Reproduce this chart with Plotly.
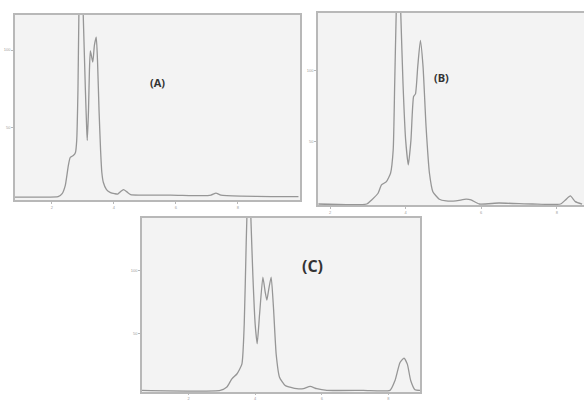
import plotly.graph_objects as go

# ---- Data ----
a_time = [0.81, 1.62, 2.20, 2.33, 2.43, 2.53, 2.59, 2.69, 2.76, 2.80, 2.84, 2.87, 2.93, 3.01, 3.08, 3.12, 3.14,
          3.18, 3.21, 3.24, 3.29, 3.32, 3.37, 3.43, 3.47, 3.52, 3.57, 3.61, 3.66, 3.76, 3.89, 4.02, 4.12,
          4.21, 4.31, 4.41, 4.54, 4.86, 5.83, 6.81, 7.13, 7.29, 7.45, 8.10, 9.07, 9.95]
a_signal = [4.9, 4.9, 5.2, 7.1, 12.3, 25.3, 30.5, 31.8, 33.8, 41.6, 74, 122.7, 175, 122.7, 74, 50, 41.6,
            61, 87, 99.4, 94.8, 92.2, 103, 108.4, 93.5, 61, 35, 20.8, 14.3, 9.7, 7.8, 7.1, 6.8,
            8.4, 9.7, 8.4, 6.5, 6.2, 6.2, 5.8, 6.2, 7.5, 6.2, 5.5, 5.2, 5.2]

b_time = [1.69, 2.97, 3.10, 3.27, 3.36, 3.49, 3.60, 3.67, 3.71, 3.75, 3.81, 3.87, 3.93, 4.00, 4.07, 4.14,
          4.21, 4.26, 4.32, 4.39, 4.46, 4.54, 4.63, 4.72, 4.89, 5.07, 5.33, 5.60, 5.73, 5.95, 6.47,
          7.35, 8.10, 8.23, 8.36, 8.49, 8.67]
b_signal = [5.9, 5.9, 8.8, 13.5, 19.4, 21.7, 27.6, 44, 91, 140.8, 190, 140.8, 91, 51, 33.5, 51,
            81.8, 83.7, 103, 121.4, 103, 60.6, 27.6, 14.6, 9.3, 8.1, 8.1, 9.3, 8.8, 5.9, 6.6,
            5.9, 5.9, 8.8, 11.6, 7.6, 5.9]

c_time = [0.60, 2.95, 3.15, 3.30, 3.45, 3.60, 3.67, 3.73, 3.75, 3.81, 3.87, 3.93, 4.00, 4.06, 4.13,
          4.23, 4.30, 4.35, 4.41, 4.48, 4.55, 4.63, 4.73, 4.90, 5.25, 5.45, 5.65, 5.85, 6.15,
          7.25, 8.05, 8.20, 8.35, 8.47, 8.57, 8.67, 8.80, 8.95]
c_signal = [5.4, 5.4, 8.0, 14.5, 18.3, 26.1, 57.2, 122, 141.4, 190, 141.4, 96, 57.2, 42.2, 65,
            94.8, 83, 76.6, 85.7, 94.8, 70.2, 33.9, 15.8, 9.3, 6.7, 6.7, 8.5, 6.7, 5.4,
            5.4, 5.4, 13.2, 27.4, 30.8, 26.1, 13.2, 5.9, 5.4]

x_ticks = [2, 4, 6, 8]
x_tick_text = ["2", "4", "6", "8"]
y_ticks = [50, 100]
y_tick_text = ["50", "100"]
right_ticks = [0, 1, 2]
right_tick_text = ["0", "1", "2"]
panel_labels = ["(A)", "(B)", "(C)"]

W, H = 584, 400
LINE = "#969696"
BORDER = "#b8b8b8"
BG = "#f3f3f3"
TICKFONT = dict(size=4, color="#a0a0a0", family="Liberation Sans")

fig = go.Figure()

panels = [
    dict(t=a_time, s=a_signal, xdom=[15, 300], ydom=[15, 200], xr=[0.81, 10.0], yr=[3.0, 122.7],
         lab=(148, 73), fs=11, tl=2),
    dict(t=b_time, s=b_signal, xdom=[318, 586], ydom=[13, 205], xr=[1.68, 8.72], yr=[5.2, 140.8],
         lab=(451, 68), fs=11, tl=2),
    dict(t=c_time, s=c_signal, xdom=[142, 420], ydom=[218, 392], xr=[0.60, 8.95], yr=[4.1, 141.4],
         lab=(312, 279), fs=16, tl=1),
]

for i, p in enumerate(panels):
    n = "" if i == 0 else str(i + 1)
    xa, ya = "x" + n, "y" + n
    xd = [p["xdom"][0] / W, min(p["xdom"][1] / W, 1.0)]
    yd = [1 - p["ydom"][1] / H, 1 - p["ydom"][0] / H]
    fig.add_trace(go.Scatter(x=p["t"], y=p["s"], mode="lines", xaxis=xa, yaxis=ya,
                             line=dict(color=LINE, width=1.3, shape="spline", smoothing=0.5),
                             showlegend=False, hoverinfo="skip"))
    fig.layout["xaxis" + n] = dict(domain=xd, range=p["xr"], anchor=ya, showgrid=False, zeroline=False,
                                   showline=True, mirror=True, linecolor=BORDER, linewidth=1.5,
                                   ticks="outside", ticklen=p["tl"], tickcolor=BORDER, automargin=False,
                                   tickvals=x_ticks, ticktext=x_tick_text, tickfont=TICKFONT)
    fig.layout["yaxis" + n] = dict(domain=yd, range=p["yr"], anchor=xa, showgrid=False, zeroline=False,
                                   showline=True, mirror=True, linecolor=BORDER, linewidth=1.5,
                                   ticks="outside", ticklen=2, tickcolor=BORDER, automargin=False,
                                   tickvals=y_ticks, ticktext=y_tick_text, tickfont=TICKFONT)
    fig.layout["yaxis" + str(i + 4)] = dict(overlaying=ya, anchor=xa, side="right", range=[0, 2],
                                            showgrid=False, zeroline=False, showline=False,
                                            ticks="inside", ticklen=2, tickcolor=BORDER,
                                            automargin=False,
                                            tickvals=right_ticks, ticktext=right_tick_text,
                                            tickfont=TICKFONT)
    fig.add_annotation(text="<b>" + panel_labels[i] + "</b>", xref="paper", yref="paper",
                       x=p["lab"][0] / W, y=1 - p["lab"][1] / H, showarrow=False,
                       font=dict(size=p["fs"], color="#333333", family="Open Sans"))
    fig.add_shape(type="rect", xref="paper", yref="paper", x0=xd[0], x1=xd[1], y0=yd[0], y1=yd[1],
                  fillcolor=BG, line=dict(width=0), layer="below")

fig.update_layout(width=W, height=H, margin=dict(l=0, r=0, t=0, b=0),
                  paper_bgcolor="white", plot_bgcolor="rgba(0,0,0,0)")

fig.write_html("out.html", config={"displayModeBar": False},
               post_script="document.body.style.margin='0';")
